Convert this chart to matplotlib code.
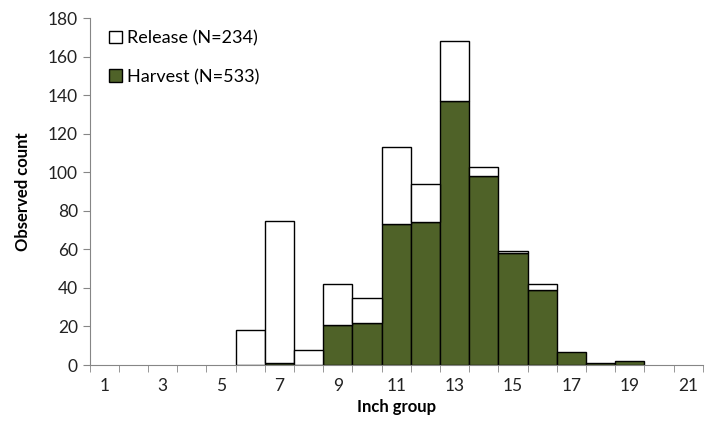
import numpy as np
import matplotlib.pyplot as plt
from matplotlib.patches import Patch

plt.rcParams['font.family'] = ['Lato', 'DejaVu Sans']

# inch groups 1..21
inch = list(range(1, 22))
harvest = [0, 0, 0, 0, 0, 0, 1, 0, 21, 22, 73, 74, 137, 98, 58, 39, 7, 1, 2, 0, 0]
release = [0, 0, 0, 0, 0, 18, 74, 8, 21, 13, 40, 20, 31, 5, 1, 3, 0, 0, 0, 0, 0]

green = '#4f6228'
grey = '#868686'

fig = plt.figure(figsize=(7.12, 4.33), dpi=100)
ax = fig.add_axes([0.126, 0.157, 0.861, 0.801])

x = np.array(inch)
hv = np.array(harvest)
rl = np.array(release)

# only draw non-empty bars
mh = hv > 0
mr = rl > 0
ax.bar(x[mh], hv[mh], width=1.0, color=green, edgecolor='black', linewidth=1.0)
ax.bar(x[mr], rl[mr], bottom=hv[mr], width=1.0, color='white', edgecolor='black', linewidth=1.0)

ax.set_xlim(0.5, 21.5)
ax.set_ylim(0, 180)
ax.set_yticks(range(0, 181, 20))
ax.set_xticks(range(1, 22, 2))
ax.set_xticks(np.arange(0.5, 22, 1.0), minor=True)
ax.tick_params(axis='x', which='major', length=0, pad=9, labelsize=12.5, colors='#222222')
ax.tick_params(axis='x', which='minor', length=5, color=grey)
ax.tick_params(axis='y', length=5, color=grey, labelsize=12.5, labelcolor='#222222')

for s in ['top', 'right']:
    ax.spines[s].set_visible(False)
for s in ['left', 'bottom']:
    ax.spines[s].set_color(grey)

ax.set_xlabel('Inch group', fontsize=12, fontweight='bold', labelpad=4)
ax.set_ylabel('Observed count', fontsize=12, fontweight='bold', labelpad=12)

handles = [Patch(facecolor='white', edgecolor='black', label='Release (N=234)'),
           Patch(facecolor=green, edgecolor='black', label='Harvest (N=533)')]
ax.legend(handles=handles, loc='upper left', bbox_to_anchor=(0.005, 1.012), frameon=False,
          fontsize=13, handlelength=0.7, handleheight=0.7, handletextpad=0.3,
          labelspacing=1.25)

fig.savefig('out.png', dpi=100)
